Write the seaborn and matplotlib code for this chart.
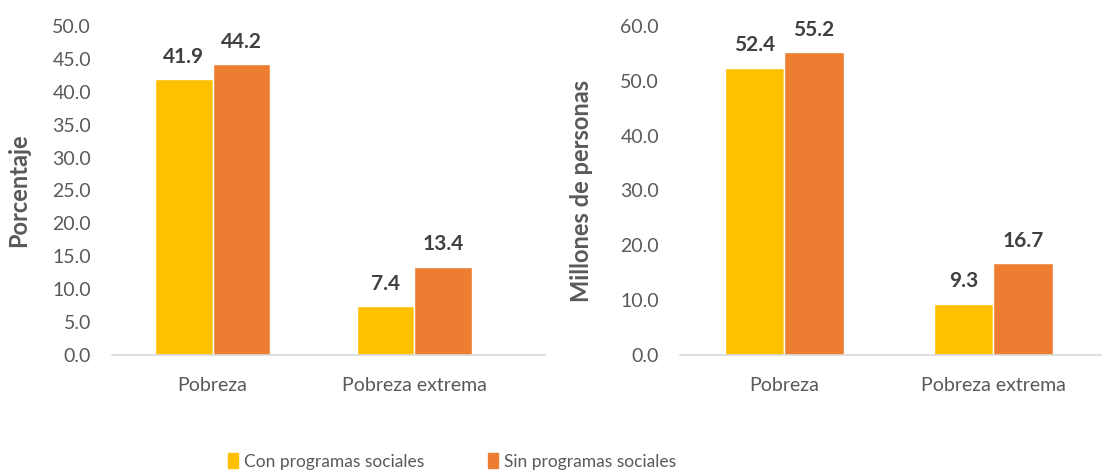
import pandas as pd
import matplotlib.pyplot as plt
import matplotlib.patches as mpatches
import seaborn as sns

# data
categorias = ["Pobreza", "Pobreza extrema"]
series = ["Con programas sociales", "Sin programas sociales"]
porcentaje_con = [41.9, 7.4]
porcentaje_sin = [44.2, 13.4]
millones_con = [52.4, 9.3]
millones_sin = [55.2, 16.7]

colores = {"Con programas sociales": "#FFC000", "Sin programas sociales": "#ED7D31"}

df_pct = pd.DataFrame({
    "categoria": categorias * 2,
    "serie": [series[0]] * 2 + [series[1]] * 2,
    "valor": porcentaje_con + porcentaje_sin,
})
df_mill = pd.DataFrame({
    "categoria": categorias * 2,
    "serie": [series[0]] * 2 + [series[1]] * 2,
    "valor": millones_con + millones_sin,
})

sns.set_style("white")
plt.rcParams["font.family"] = ["Lato", "DejaVu Sans"]

fig = plt.figure(figsize=(11.02, 4.71), dpi=100)
ax1 = fig.add_axes([0.1016, 0.2463, 0.3930, 0.6985])
ax2 = fig.add_axes([0.6170, 0.2463, 0.3830, 0.6985])

gris = "#595959"


def dibujar(ax, df, ymax, paso, etiqueta, xmax):
    sns.barplot(data=df, x="categoria", y="valor", hue="serie", palette=colores,
                width=0.57, ax=ax, legend=False, saturation=1)
    ax.set_ylim(0, ymax)
    ax.set_xlim(-0.5, xmax)
    ax.set_yticks([i * paso for i in range(int(ymax / paso) + 1)])
    ax.set_yticklabels([f"{i * paso:.1f}" for i in range(int(ymax / paso) + 1)])
    ax.tick_params(axis="both", length=0, labelsize=14, labelcolor=gris)
    ax.tick_params(axis="y", pad=15)
    ax.tick_params(axis="x", pad=16)
    for s in ["top", "right", "left"]:
        ax.spines[s].set_visible(False)
    ax.spines["bottom"].set_color("#D9D9D9")
    ax.spines["bottom"].set_linewidth(1.2)
    ax.set_xlabel("")
    ax.set_ylabel(etiqueta, fontsize=17, fontweight="bold", color=gris)
    for cont in ax.containers:
        for barra in cont:
            h = barra.get_height()
            ax.annotate(f"{h:.1f}", (barra.get_x() + barra.get_width() / 2, h),
                        xytext=(0, 9), textcoords="offset points",
                        ha="center", va="bottom", fontsize=15,
                        fontweight="bold", color="#404040")


dibujar(ax1, df_pct, 50, 5, "Porcentaje", 1.65)
dibujar(ax2, df_mill, 60, 10, "Millones de personas", 1.52)
ax1.yaxis.set_label_coords(-0.19, 0.5)
ax2.yaxis.set_label_coords(-0.206, 0.5)

handles = [mpatches.Patch(color=colores[s], label=s) for s in series]
fig.legend(handles=handles, loc="center", bbox_to_anchor=(0.41, 0.02), ncol=2,
           frameon=False, fontsize=12.5, handlelength=0.6, handleheight=0.9,
           handletextpad=0.3, columnspacing=3.7, labelcolor=gris)

fig.savefig("out.png", dpi=100)
